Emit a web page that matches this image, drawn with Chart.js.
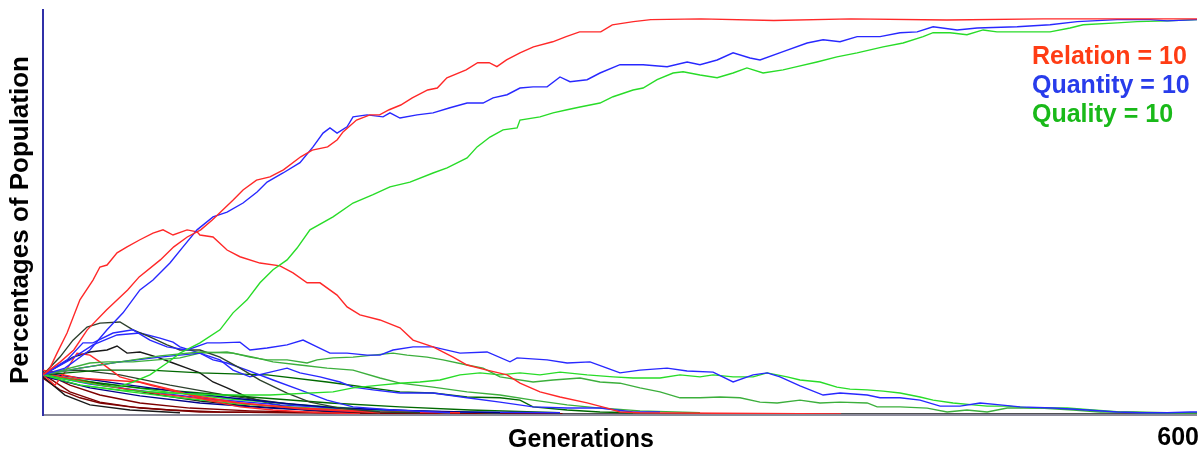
<!DOCTYPE html>
<html>
<head>
<meta charset="utf-8">
<script src="https://cdn.jsdelivr.net/npm/chart.js@4.4.0/dist/chart.umd.min.js"></script>
<style>
html,body{margin:0;padding:0;background:#fff;}
canvas{display:block;}
</style>
</head>
<body>
<canvas id="c" width="1202" height="450"></canvas>
<script>
// ---- Data: [generation, percentage of population] ----
const genMax = 600;
const xTickLabel = "600";
const xTitle = "Generations";
const yTitle = "Percentages of Population";
const legendLabels = ["Relation = 10", "Quantity = 10", "Quality = 10"];

const relationWinner = [[0,9.9],[9,13.2],[16,16.2],[23,21.3],[33,26.3],[44,31.4],[50,34.7],[61,39],[68,42.3],[75,44.8],[82,46.6],[88,49.1],[99,54.2],[104,56.7],[111,59.2],[118,60],[125,61.8],[134,65.1],[140,66.8],[148,67.6],[153,69.4],[156,71.4],[163,74.4],[170,75.7],[175,75.7],[180,77],[186,78.2],[192,80],[200,82],[205,82.5],[210,85.1],[220,87.1],[226,88.9],[232,88.9],[236,87.9],[241,89.6],[248,91.4],[255,92.9],[265,94.2],[272,95.5],[279,96.7],[290,96.7],[296,98.5],[307,99.3],[316,99.8],[342,100],[380,99.6],[420,100],[470,99.7],[520,100],[600,100]];
const relationPeak = [[0,9.9],[3.6,11.6],[7.3,15.4],[12.5,20.5],[19.2,28.9],[26,33.9],[29.6,37.2],[33.3,37.7],[38.5,40.8],[43.7,42.3],[50.4,44.1],[57.2,45.8],[62.4,46.6],[67.6,45.3],[74.9,46.6],[80.1,46.1],[81.6,45.3],[88.4,44.8],[95.7,41.5],[102.4,39.8],[112.8,38.2],[123.2,37.5],[130,35.7],[137.3,33.2],[144,33.2],[152.9,30.1],[158.1,27.1],[164.8,25.1],[175.2,23.8],[185.6,21.8],[192.4,18.7],[202.8,17],[213.2,14.4],[220.5,12.4],[230.9,11.1],[241.3,9.9],[248,7.8],[258.4,5.6],[268.8,4.3],[282.9,2.8],[293.3,1.5],[300,0.5],[310.4,0.3],[350,0.2],[415,0]];
const quantityWinner = [[0,9.9],[11.4,11.6],[24.4,16.2],[33.3,21.3],[41.6,25.6],[50.4,31.4],[57.2,33.9],[66,38.2],[72.8,42.3],[80.1,46.6],[88.4,49.9],[95.7,51.1],[104,53.4],[111.3,56.2],[116.5,58.7],[124.8,61],[133.6,63.6],[140.4,67.6],[145.6,71.1],[149.2,72.4],[152.9,71.1],[158.1,72.7],[161.2,75.2],[168.5,75.7],[176.8,75.2],[180.4,76.2],[185.6,74.9],[194.5,75.7],[202.8,76.2],[211.6,77.5],[220.5,78.7],[228.8,78.7],[234,80],[241.3,80.8],[248,82.5],[254.8,82.8],[262.1,82.8],[268.8,85.3],[274,84.1],[282.9,84.6],[289.6,86.3],[300,88.4],[312,88.4],[324.5,87.9],[334.9,89.1],[341.6,88.4],[350.5,89.6],[358.8,91.4],[367.6,90.1],[372.8,89.6],[384.8,91.7],[397.3,93.9],[405.6,94.7],[414.4,94.2],[423.3,95.5],[435.2,95.5],[445.6,96.5],[454.5,96.7],[462.8,98],[475.3,97.2],[485.7,97.7],[506.5,98],[523.6,98.5],[537.7,99.3],[558.5,99.8],[575.7,99.8],[584.5,99.5],[600,99.8]];
const qualityWinner = [[0,9.9],[14,8.6],[29.6,7.3],[38.5,6.8],[46.8,8.1],[55.6,9.9],[64.5,12.9],[71.2,15.4],[81.6,18],[92,21.3],[98.8,25.6],[106.1,28.9],[112.8,33.2],[119.6,36.5],[126.9,39],[132.1,42],[138.8,46.6],[150.8,49.9],[161.2,53.4],[171.6,55.5],[180.4,57.5],[190.8,58.7],[202.8,61],[210.1,62.3],[220.5,64.8],[225.7,67.6],[232.4,70.1],[239.2,71.9],[246.5,72.4],[248,74.4],[258.4,75.2],[265.2,76.2],[272.5,77],[279.2,77.7],[289.6,78.7],[296.4,80.3],[306.8,82],[312,82.5],[319.3,84.6],[327.6,86.3],[332.8,86.6],[341.6,85.8],[350.5,85.1],[358.8,86.3],[366,87.6],[374.4,86.3],[384.8,87.1],[392,87.9],[402.4,89.1],[412.8,90.4],[423.3,91.4],[436.8,92.9],[447.2,93.9],[457.6,95.5],[462.8,96.5],[471.6,96.5],[480.4,96],[488.8,97.2],[496,96.7],[506.5,96.7],[523.6,96.7],[534,97.7],[540.8,98.5],[558.5,99],[568.9,99.3],[584.5,99.5],[600,99.8]];
const quantityMid = [[0,9.9],[12.5,13.7],[20.8,18],[26,18],[36.4,20.5],[46.8,21.3],[55.6,18.7],[64.5,17],[74.9,16.2],[85.3,18],[92,18],[102.4,18.2],[107.6,16.2],[116.5,16.7],[126.9,17.5],[135.2,18.7],[142.5,17],[149.2,15.4],[158.1,15.4],[168.5,14.9],[175.2,14.9],[182,16.2],[192.4,17],[202.8,17],[216.8,15.4],[230.9,15.7],[242.8,13.2],[246.5,14.2],[262.1,13.7],[272.5,12.9],[284.4,13.2],[293.3,11.6],[300,10.4],[310.4,11.1],[324.5,11.6],[334.9,10.9],[348.4,10.6],[358.8,8.1],[369.2,9.9],[376.5,10.4],[383.2,9.4],[393.6,7.1],[405.6,4.8],[414.4,5.3],[428.5,4.8],[435.2,4.1],[445.6,4.1],[456,3.5],[466.4,2],[476.8,2],[487.2,2.8],[497.6,2.3],[508,1.8],[525.2,1.5],[542.9,1],[558.5,0.5],[570.4,0.3],[584.5,0.3],[596.4,0.5],[600,0.5]];
const qualityMid = [[0,9.9],[19.2,11.6],[40,13.2],[60.8,14.7],[81.6,15.7],[98.8,15.4],[107.6,14.4],[116.5,13.7],[126.9,13.7],[137.3,12.9],[142.5,13.7],[150.8,14.2],[161.2,14.4],[171.6,14.9],[182,15.4],[189.3,14.9],[199.7,14.4],[208,13.7],[220.5,12.4],[228.8,11.6],[237.6,9.4],[254.8,8.1],[265.2,8.6],[279.2,9.1],[289.6,8.1],[300,7.8],[310.4,6.6],[320.8,5.6],[331.2,4.1],[341.6,4.1],[352,4.3],[362.4,4.1],[372.8,3],[381.7,2.8],[393.6,3.5],[404,2.8],[414.4,3],[428.5,2.8],[433.7,1.8],[445.6,1.8],[459.7,1.5],[470.1,0.5],[480.4,1],[490.9,0.5],[501.3,1.5],[518.4,1.5],[535.6,1],[549.6,0.5],[566.8,0.5],[584.5,0.3],[600,0.3]];
const qualityLow = [[0,9.9],[19.2,7.3],[40,6.1],[66,5.3],[92,4.8],[118,4.8],[150.8,5.6],[161.2,6.6],[175.2,7.3],[185.6,7.8],[196,8.1],[206.4,8.6],[216.8,9.9],[227.2,10.4],[237.6,9.9],[248,10.4],[258.4,9.9],[268.8,10.6],[282.9,9.9],[296.4,9.4],[306.8,9.1],[320.8,9.1],[331.2,9.9],[341.6,9.4],[348.4,9.9],[358.8,9.4],[369.2,9.4],[376.5,10.4],[386.9,9.4],[393.6,8.6],[404,8.1],[412.8,6.8],[419.6,6.3],[428.5,6.1],[436.8,5.8],[445.6,5.3],[456,4.3],[462.8,3.5],[473.2,2.8],[483.6,2.3],[490.9,2],[501.3,2],[514.8,1.5],[532.5,1.5],[546,1],[560,0.5],[574,0.3],[600,0.3]];
const otherA = [[0,9.9],[8.8,14.4],[15.6,18.7],[22.9,22],[29.6,23],[40,23.3],[46.8,21.3],[55.6,19.5],[64.5,17.5],[71.2,16.2],[81.6,16.2],[92,14.4],[102.4,11.6],[112.8,8.6],[126.9,5.3],[138.8,3],[154.4,1.5],[175.2,0.5],[196,0.3]];
const otherB = [[0,9.9],[15.6,14.4],[24.4,15.7],[33.3,16.2],[38.5,17.2],[43.7,15.4],[50.4,15.7],[59.3,14.4],[67.6,12.9],[74.9,11.6],[81.6,10.4],[88.4,8.1],[95.7,6.6],[106.1,4.3],[116.5,2.8],[126.9,1.8],[137.3,1],[150.8,0.5],[175.2,0.3],[250,0],[600,0]];
const quantityLowA = [[0,9.9],[14,13.7],[26,17.5],[38.5,20],[50.4,20.5],[60.8,19.2],[67.6,18.2],[71.2,17],[81.6,15.4],[88.4,13.7],[95.7,12.9],[106.1,11.1],[119.6,8.6],[133.6,6.1],[147.7,3.5],[161.2,1.8],[182,1],[211.6,0.3]];
const quantityLowB = [[0,9.9],[19.2,11.6],[40,13.2],[60.8,14.4],[81.6,15.4],[92,13.7],[98.8,11.1],[107.6,9.4],[116.5,10.4],[126.9,11.6],[133.6,10.4],[144,9.4],[154.4,8.1],[161.2,6.8],[171.6,6.1],[185.6,5.3],[202.8,5.3],[220.5,4.1],[237.6,3],[254.8,1.8],[272.5,1.5],[289.6,1.5],[306.8,0.5],[320.8,0.5]];
const qualityDarkA = [[0,9.9],[29.6,11.1],[55.6,11.1],[81.6,10.4],[116.5,9.9],[147.7,8.1],[185.6,5.6],[202.8,5.3],[220.5,4.3],[237.6,4.1],[248,3.5],[254.8,1.8],[272.5,1],[289.6,0.5],[306.8,0.3]];
const qualityDarkB = [[0,9.9],[24.4,12.9],[33.3,13.2],[46.8,13.2],[59.3,13.7],[71.2,14.2],[81.6,15.4],[95.7,15.7],[109.2,14.4],[119.6,13.2],[133.6,12.4],[147.7,11.6],[161.2,11.1],[175.2,9.1],[185.6,7.8],[202.8,6.8],[220.5,5.6],[237.6,4.8],[254.8,3.5],[272.5,2.3],[289.6,1.5],[310.4,0.8],[341.6,0.3]];
const fastA = [[0,9.1],[8.8,6.1],[19.2,4.1],[29.6,2.8],[45.2,1.8],[66,1],[92,0.5],[133.6,0.3],[270,0]];
const fastB = [[0,10.6],[14,7.3],[29.6,4.8],[50.4,2.8],[76.4,1.5],[107.6,0.8],[149.2,0.3],[270,0]];
const fastC = [[0,9.9],[19.2,8.6],[40,6.6],[60.8,4.8],[81.6,3.3],[107.6,2],[138.8,1],[175.2,0.3]];
const fastD = [[0,10.4],[19.2,9.1],[45.2,7.3],[71.2,5.6],[97.2,4.1],[123.2,2.8],[154.4,1.5],[196,0.8],[237.6,0.3]];
const fastE = [[0,9.6],[24.4,8.1],[50.4,6.6],[81.6,5.3],[112.8,4.1],[149.2,2.8],[185.6,1.8],[222,1],[268.8,0.3]];
const fastF = [[0,11.1],[17.7,9.1],[33.3,8.6],[50.4,8.1],[67.6,6.1],[85.3,3.5],[102.4,1.8],[119.6,1],[137.3,0.5],[164.8,0]];
const fastG = [[0,9.9],[6.2,7.3],[11.4,10.6],[17.7,15.4],[24.4,14.9],[29.6,13.2],[40,9.4],[55.6,7.3],[76.4,4.8],[102.4,2.8],[133.6,1.3],[175.2,0.3]];
const fastH = [[0,9.6],[19.2,7.3],[45.2,5.6],[71.2,4.1],[102.4,2.5],[138.8,1.5],[185.6,0.8],[237.6,0.3]];
const fastI = [[0,10.1],[14,5.6],[29.6,3],[50.4,1.5],[81.6,0.5],[270,0]];
const fastJ = [[0,9.4],[11.4,4.8],[24.4,2.3],[45.2,1],[71.2,0.3]];
const fastK = [[0,9.6],[24.4,6.6],[50.4,4.6],[81.6,2.8],[118,1.5],[159.7,0.5]];
const fastL = [[0,10.1],[29.6,7.8],[60.8,5.8],[97.2,3.8],[133.6,2.3],[175.2,1],[211.6,0.3]];
const fastM = [[0,9.9],[24.4,7.6],[55.6,5.6],[86.8,3.8],[123.2,2.3],[159.7,1.3],[211.6,0.5],[268.8,0.3]];
const fastN = [[0,10.4],[29.6,7.3],[60.8,5.1],[97.2,3],[133.6,1.5],[175.2,0.5],[216.8,0.3]];
const fastO = [[0,10.6],[19.2,11.1],[40,9.9],[66,7.3],[97.2,4.6],[128.4,2.5],[164.8,1],[211.6,0.3]];

const RED = 'rgb(255,40,40)', BLUE = 'rgb(40,40,255)', GREEN = 'rgb(40,220,40)';
const MIDGREEN = 'rgb(60,175,60)', DKGREEN = 'rgb(0,105,0)', MAROON = 'rgb(125,0,0)';
const NAVY = 'rgb(0,0,140)', BLACK = 'rgb(25,25,25)', SLATE = 'rgb(45,65,45)';

const series = [
  [relationWinner, RED], [quantityWinner, BLUE], [qualityWinner, GREEN],
  [relationPeak, RED], [quantityMid, BLUE], [qualityMid, MIDGREEN], [qualityLow, GREEN],
  [otherA, SLATE], [quantityLowA, BLUE], [quantityLowB, BLUE],
  [qualityDarkA, DKGREEN], [qualityDarkB, MIDGREEN],
  [fastF, RED], [fastG, RED], [fastN, RED], [fastD, NAVY], [fastK, NAVY], [fastM, BLUE],
  [fastE, DKGREEN], [fastH, GREEN], [fastL, GREEN], [fastC, BLACK], [fastJ, BLACK], [fastO, SLATE],
  [fastA, MAROON], [fastB, MAROON], [fastI, MAROON], [otherB, BLACK]
];

const datasets = series.map(([pts, col]) => ({
  data: pts.map(([g, v]) => ({x: g, y: v})),
  borderColor: col,
  borderWidth: 1.4,
  pointRadius: 0,
  tension: 0,
  fill: false
}));

const decor = {
  id: 'decor',
  beforeDatasetsDraw(chart) {
    const {ctx, scales: {x, y}} = chart;
    const x0 = x.getPixelForValue(0), x1 = x.getPixelForValue(genMax);
    const yb = y.getPixelForValue(0);
    ctx.save();
    ctx.strokeStyle = '#8a8a9a';
    ctx.lineWidth = 2;
    ctx.beginPath(); ctx.moveTo(x0, yb + 1); ctx.lineTo(x1, yb + 1); ctx.stroke();
    ctx.strokeStyle = '#3030a8';
    ctx.lineWidth = 2;
    ctx.beginPath(); ctx.moveTo(x0, chart.chartArea.top); ctx.lineTo(x0, yb + 2); ctx.stroke();
    ctx.restore();
  },
  afterDraw(chart) {
    const ctx = chart.ctx;
    ctx.save();
    ctx.font = 'bold 25px "Liberation Sans", Arial, sans-serif';
    ctx.fillStyle = '#000';
    ctx.textBaseline = 'alphabetic';
    ctx.textAlign = 'center';
    ctx.fillText(xTitle, 581, 447);
    ctx.textAlign = 'right';
    ctx.fillText(xTickLabel, 1199, 445);
    ctx.save();
    ctx.font = 'bold 26px "Liberation Sans", Arial, sans-serif';
    ctx.translate(28, 220);
    ctx.rotate(-Math.PI / 2);
    ctx.textAlign = 'center';
    ctx.fillText(yTitle, 0, 0);
    ctx.restore();
    const legCols = ['rgb(255,60,20)', 'rgb(40,60,235)', 'rgb(25,185,25)'];
    ctx.textAlign = 'left';
    legendLabels.forEach((t, i) => {
      ctx.fillStyle = legCols[i];
      ctx.fillText(t, 1032, 64 + i * 29);
    });
    ctx.restore();
  }
};

new Chart(document.getElementById('c'), {
  type: 'line',
  data: {datasets},
  options: {
    responsive: false,
    animation: false,
    devicePixelRatio: 1,
    layout: {padding: {left: 43, right: 5, top: 9, bottom: 36}},
    scales: {
      x: {type: 'linear', min: 0, max: genMax, display: false},
      y: {min: 0, max: 102.5, display: false}
    },
    plugins: {legend: {display: false}, tooltip: {enabled: false}},
    elements: {line: {capBezierPoints: false}}
  },
  plugins: [decor]
});
</script>
</body>
</html>
